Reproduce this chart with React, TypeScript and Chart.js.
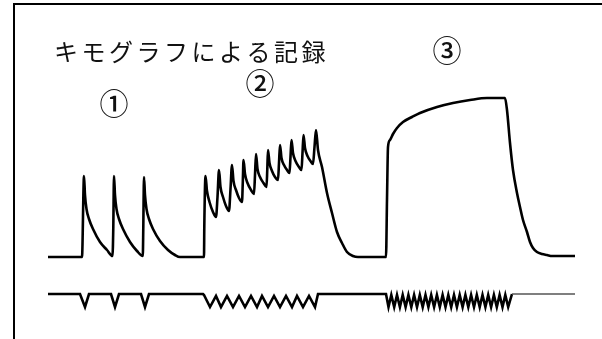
import React, { useEffect, useRef } from "react";
import { Chart, registerables } from "chart.js";

Chart.register(...registerables);

// Kymograph record: muscle tension (upper trace) and stimulus marker (lower trace)
const titleText = "キモグラフによる記録";
const sectionLabels = ["①", "②", "③"];

// ① single twitches
const twitchTime = [48, 82, 84, 85, 86.5, 89, 93, 100, 107, 112.5, 113.3, 114, 115, 116.5, 119, 123, 130, 137, 142.8, 143.3, 144, 145, 146.5, 149, 153, 160, 168, 175, 180, 204];
const twitchTension = [0, 0, 81, 62, 48, 38, 28, 15, 7, 1, 30, 81, 62, 48, 38, 28, 15, 6, 1, 30, 80, 62, 48, 38, 28, 16, 7, 2, 0, 0];

// ② incomplete tetanus (summation)
const summationTime = [204.3, 205.5, 207, 209.5, 213, 216, 217.5, 219, 220.5, 223, 226, 229, 230.5, 232, 233.5, 236, 239, 242, 242.8, 243.5, 245, 247.5, 251, 254, 255, 256, 257.5, 260, 263.5, 266.5, 267.3, 268, 269.5, 272, 275, 278, 279, 280, 281.5, 284, 287, 289.5, 290.5, 291.5, 293, 295.5, 299, 301.5, 302.5, 303.5, 305, 307.5, 310.5, 313, 314.5, 316, 318, 322, 327, 332, 337, 342, 347, 353, 358, 385];
const summationTension = [30, 81, 66, 55, 45, 40, 60, 87, 70, 60, 51, 46, 68, 92, 76, 67, 59, 55, 75, 97, 83, 74, 67, 63, 82, 103, 88, 80, 74, 70, 88, 107, 94, 86, 80, 77, 94, 112, 99, 92, 87, 84, 100, 117, 104, 96, 90, 87, 104, 122, 109, 101, 96, 93, 110, 127, 107, 90, 64, 44, 25, 14, 5, 1, 0, 0];

// ③ complete tetanus
const tetanusTime = [386, 387, 388, 390, 393, 397, 403, 412, 420, 437, 453, 470, 487, 505, 507, 510, 513, 517, 520, 523, 527, 530, 533, 537, 542, 547, 552, 575];
const tetanusTension = [0, 57, 110, 117, 123, 129, 135, 140, 144, 150, 154, 157, 159, 159, 147, 114, 87, 64, 50, 37, 25, 15, 9, 5, 3, 2, 1, 1];

// stimulus marker
const stimTime = [48, 80, 85, 89, 111, 115, 119, 141, 145, 149, 203,
  204, 210, 216, 221, 227, 233, 239, 245, 251, 257, 262, 268, 274, 280, 286, 292, 297, 303, 309, 315, 318, 385,
  386, 388.5, 391.3, 394.2, 397, 399.9, 402.7, 405.6, 408.4, 411.3, 414.1, 417, 419.8, 422.7, 425.5, 428.4, 431.2, 434.1, 436.9, 439.8, 442.6, 445.5, 448.3, 451.2, 454, 456.9, 459.7, 462.6, 465.4, 468.3, 471.1, 474, 476.8, 479.7, 482.5, 485.4, 488.2, 491.1, 493.9, 496.8, 499.6, 502.5, 505.3, 508.2, 512, 575];
const stimValue = [0, 0, -13, 0, 0, -13, 0, 0, -13, 0, 0,
  -1, -13, -2, -13, -2, -13, -2, -13, -2, -13, -2, -13, -2, -13, -2, -13, -2, -13, -2, -13, 0, 0,
  0, -13, -1, -13, -1, -13, -1, -13, -1, -13, -1, -13, -1, -13, -1, -13, -1, -13, -1, -13, -1, -13, -1, -13, -1, -13, -1, -13, -1, -13, -1, -13, -1, -13, -1, -13, -1, -13, -1, -13, -1, -13, -1, -13, 0, 0];

const toPoints = (t: number[], v: number[]) => t.map((x, i) => ({ x, y: v[i] }));

export default function App() {
  const ref = useRef<HTMLCanvasElement | null>(null);
  useEffect(() => {
    if (!ref.current) return;
    const upper = [
      ...toPoints(twitchTime, twitchTension),
      ...toPoints(summationTime, summationTension),
      ...toPoints(tetanusTime, tetanusTension),
    ];
    const lower = toPoints(stimTime, stimValue);

    const decor = {
      id: "decor",
      afterDraw(chart: any) {
        const ctx = chart.ctx as CanvasRenderingContext2D;
        ctx.save();
        ctx.strokeStyle = "#000";
        ctx.lineWidth = 2;
        ctx.beginPath();
        ctx.moveTo(14, 339);
        ctx.lineTo(14, 4);
        ctx.lineTo(602, 4);
        ctx.stroke();
        ctx.fillStyle = "#111";
        ctx.textBaseline = "middle";
        ctx.textAlign = "left";
        ctx.font = '24px "Noto Sans CJK JP"';
        (ctx as any).letterSpacing = "3.5px";
        ctx.fillText(titleText, 54, 52);
        (ctx as any).letterSpacing = "0px";
        ctx.textAlign = "center";
        ctx.font = '500 29px "Noto Sans CJK JP"';
        const pos = [[114, 104], [260, 84], [447, 51]];
        sectionLabels.forEach((s, i) => ctx.fillText(s, pos[i][0], pos[i][1]));
        ctx.restore();
      },
    };

    const chart = new Chart(ref.current, {
      type: "line",
      data: {
        datasets: [
          {
            data: upper,
            borderColor: "#000",
            borderWidth: 2.6,
            pointRadius: 0,
            cubicInterpolationMode: "monotone",
            yAxisID: "y",
          },
          {
            data: lower,
            borderColor: "#000",
            borderWidth: 2.6,
            pointRadius: 0,
            tension: 0,
            yAxisID: "y2",
            segment: {
              borderColor: (c: any) => (c.p0.parsed.x >= 512 ? "#555" : "#000"),
              borderWidth: (c: any) => (c.p0.parsed.x >= 512 ? 1.4 : 2.6),
            },
          },
        ],
      },
      options: {
        animation: false,
        responsive: false,
        maintainAspectRatio: false,
        layout: { padding: 0 },
        plugins: { legend: { display: false }, tooltip: { enabled: false }, title: { display: false } },
        scales: {
          x: { type: "linear", min: 0, max: 602, display: false },
          y: { type: "linear", min: -82, max: 257, display: false },
          y2: { type: "linear", min: -45, max: 294, display: false },
        },
      },
      plugins: [decor],
    } as any);
    return () => chart.destroy();
  }, []);
  return (
    <div style={{ position: "fixed", left: 0, top: 0, width: 602, height: 339, background: "#fff" }}>
      <canvas ref={ref} width={602} height={339} style={{ width: 602, height: 339 }} />
    </div>
  );
}
